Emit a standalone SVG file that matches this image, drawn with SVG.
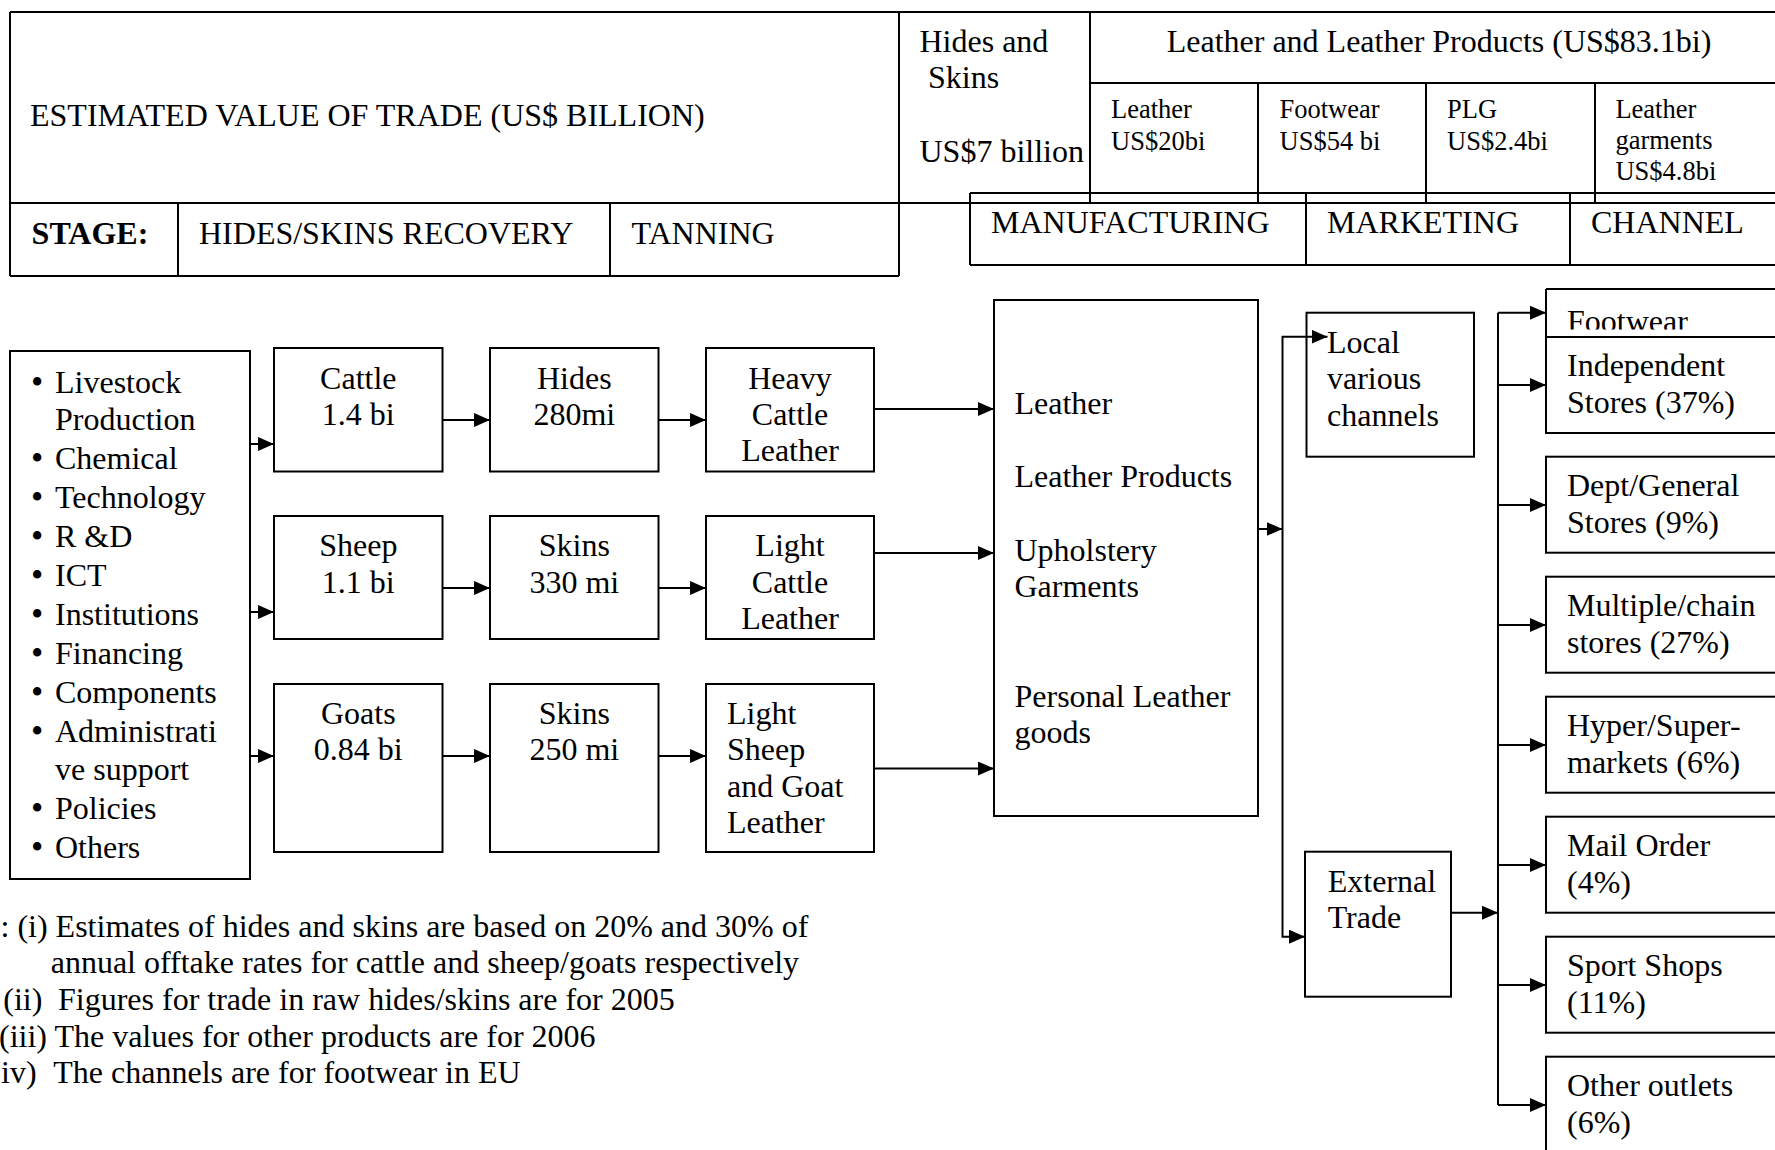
<svg xmlns="http://www.w3.org/2000/svg" width="1775" height="1150" viewBox="0 0 1775 1150">
<style>
text{font-family:"Liberation Serif","Times New Roman",serif;font-size:32px;fill:#000}
.sm{font-size:26.5px}
.b{font-weight:bold}
.c{text-anchor:middle}
.bu{font-size:35px}
.bx{fill:none;stroke:#000;stroke-width:2}
.ln{fill:none;stroke:#000;stroke-width:2}
.cn{fill:none;stroke:#000;stroke-width:2;marker-end:url(#ah)}
</style>
<defs>
<marker id="ah" markerUnits="userSpaceOnUse" markerWidth="16" markerHeight="14" refX="16" refY="7" orient="auto">
<path d="M0,0 L16,7 L0,14 Z" fill="#000"/>
</marker>
<clipPath id="fwclip"><rect x="1546" y="289" width="240" height="40.5"/></clipPath>
</defs>
<rect width="1775" height="1150" fill="#fff"/>

<g id="header">
<path class="ln" d="M10,12 H1800 M10,203 H1800 M10,12 V276 M899,12 V276 M1090,12 V203 M1090,83 H1800 M1258,83 V203 M1426,83 V203 M1595,83 V203 M10,276 H899 M178,203 V276 M610,203 V276"/>
<text x="30" y="126">ESTIMATED VALUE OF TRADE (US$ BILLION)</text>
<text x="919.5" y="52">Hides and</text>
<text x="928" y="88">Skins</text>
<text x="919.5" y="162">US$7 billion</text>
<text x="1166.7" y="52">Leather and Leather Products (US$83.1bi)</text>
<text class="sm" x="1111" y="118">Leather</text>
<text class="sm" x="1111" y="150">US$20bi</text>
<text class="sm" x="1279.5" y="118">Footwear</text>
<text class="sm" x="1279.5" y="150">US$54 bi</text>
<text class="sm" x="1447" y="118">PLG</text>
<text class="sm" x="1447" y="150">US$2.4bi</text>
<text class="sm" x="1615.4" y="118">Leather</text>
<text class="sm" x="1615.4" y="149">garments</text>
<text class="sm" x="1615.4" y="180">US$4.8bi</text>
<text class="b" x="31.6" y="244">STAGE:</text>
<text x="199" y="244">HIDES/SKINS RECOVERY</text>
<text x="631.5" y="244">TANNING</text>
</g>

<g id="stage2">
<path class="ln" d="M970,193 H1800 M970,265 H1800 M970,193 V265 M1306,193 V265 M1570,193 V265"/>
<text x="991" y="233">MANUFACTURING</text>
<text x="1327" y="233">MARKETING</text>
<text x="1591" y="233">CHANNEL</text>
</g>

<g id="inputs">
<rect class="bx" x="10" y="351" width="240" height="528"/>
<text class="bu" x="31" y="394">•</text><text x="55" y="393">Livestock</text>
<text x="55" y="430">Production</text>
<text class="bu" x="31" y="470">•</text><text x="55" y="469">Chemical</text>
<text class="bu" x="31" y="509">•</text><text x="55" y="508">Technology</text>
<text class="bu" x="31" y="548">•</text><text x="55" y="547">R &amp;D</text>
<text class="bu" x="31" y="587">•</text><text x="55" y="586">ICT</text>
<text class="bu" x="31" y="626">•</text><text x="55" y="625">Institutions</text>
<text class="bu" x="31" y="665">•</text><text x="55" y="664">Financing</text>
<text class="bu" x="31" y="704">•</text><text x="55" y="703">Components</text>
<text class="bu" x="31" y="743">•</text><text x="55" y="742">Administrati</text>
<text x="55" y="780">ve support</text>
<text class="bu" x="31" y="820">•</text><text x="55" y="819">Policies</text>
<text class="bu" x="31" y="859">•</text><text x="55" y="858">Others</text>
</g>

<g id="cattle">
<rect class="bx" x="274" y="348" width="168.5" height="123.5"/>
<text class="c" x="358.3" y="389">Cattle</text>
<text class="c" x="358.3" y="425">1.4 bi</text>
</g>
<g id="sheep">
<rect class="bx" x="274" y="516" width="168.5" height="123"/>
<text class="c" x="358.3" y="556">Sheep</text>
<text class="c" x="358.3" y="593">1.1 bi</text>
</g>
<g id="goats">
<rect class="bx" x="274" y="684" width="168.5" height="168"/>
<text class="c" x="358.3" y="724">Goats</text>
<text class="c" x="358.3" y="760">0.84 bi</text>
</g>

<g id="hides">
<rect class="bx" x="490" y="348" width="168.5" height="123.5"/>
<text class="c" x="574.3" y="389">Hides</text>
<text class="c" x="574.3" y="425">280mi</text>
</g>
<g id="skins-sheep">
<rect class="bx" x="490" y="516" width="168.5" height="123"/>
<text class="c" x="574.3" y="556">Skins</text>
<text class="c" x="574.3" y="593">330 mi</text>
</g>
<g id="skins-goats">
<rect class="bx" x="490" y="684" width="168.5" height="168"/>
<text class="c" x="574.3" y="724">Skins</text>
<text class="c" x="574.3" y="760">250 mi</text>
</g>

<g id="heavy-cattle-leather">
<rect class="bx" x="706" y="348" width="168" height="123.5"/>
<text class="c" x="790" y="389">Heavy</text>
<text class="c" x="790" y="425">Cattle</text>
<text class="c" x="790" y="461">Leather</text>
</g>
<g id="light-cattle-leather">
<rect class="bx" x="706" y="516" width="168" height="123"/>
<text class="c" x="790" y="556">Light</text>
<text class="c" x="790" y="593">Cattle</text>
<text class="c" x="790" y="629">Leather</text>
</g>
<g id="light-sheep-goat-leather">
<rect class="bx" x="706" y="684" width="168" height="168"/>
<text x="727" y="724">Light</text>
<text x="727" y="760">Sheep</text>
<text x="727" y="797">and Goat</text>
<text x="727" y="833">Leather</text>
</g>

<g id="manufacturing">
<rect class="bx" x="994" y="300" width="264" height="516"/>
<text x="1014.5" y="414">Leather</text>
<text x="1014.5" y="487">Leather Products</text>
<text x="1014.5" y="560.5">Upholstery</text>
<text x="1014.5" y="596.5">Garments</text>
<text x="1014.5" y="707">Personal Leather</text>
<text x="1014.5" y="743">goods</text>
</g>

<g id="local">
<rect class="bx" x="1306.5" y="312.7" width="167.5" height="144"/>
<text x="1327" y="353">Local</text>
<text x="1327" y="389">various</text>
<text x="1327" y="426">channels</text>
</g>
<g id="external">
<rect class="bx" x="1305" y="851.7" width="146" height="145"/>
<text x="1327.7" y="891.7">External</text>
<text x="1327.7" y="928">Trade</text>
</g>

<g id="ch-footwear">
<path class="ln" d="M1546,289 H1800 M1546,289 V337"/>
<text x="1567" y="332" clip-path="url(#fwclip)">Footwear</text>
</g>
<g id="ch-independent">
<rect class="bx" x="1546" y="337" width="260" height="96"/>
<text x="1567" y="376">Independent</text>
<text x="1567" y="412.5">Stores (37%)</text>
</g>
<g id="ch-dept">
<rect class="bx" x="1546" y="456.7" width="260" height="96"/>
<text x="1567" y="496">Dept/General</text>
<text x="1567" y="532.5">Stores (9%)</text>
</g>
<g id="ch-multiple">
<rect class="bx" x="1546" y="576.7" width="260" height="96"/>
<text x="1567" y="616">Multiple/chain</text>
<text x="1567" y="652.5">stores (27%)</text>
</g>
<g id="ch-hyper">
<rect class="bx" x="1546" y="696.7" width="260" height="96"/>
<text x="1567" y="736">Hyper/Super-</text>
<text x="1567" y="772.5">markets (6%)</text>
</g>
<g id="ch-mail">
<rect class="bx" x="1546" y="816.7" width="260" height="96"/>
<text x="1567" y="856">Mail Order</text>
<text x="1567" y="892.5">(4%)</text>
</g>
<g id="ch-sport">
<rect class="bx" x="1546" y="936.7" width="260" height="96"/>
<text x="1567" y="976">Sport Shops</text>
<text x="1567" y="1012.5">(11%)</text>
</g>
<g id="ch-other">
<rect class="bx" x="1546" y="1056.7" width="260" height="120"/>
<text x="1567" y="1096">Other outlets</text>
<text x="1567" y="1132.5">(6%)</text>
</g>

<g id="connectors">
<path class="cn" d="M250,444 H274"/>
<path class="cn" d="M250,612 H274"/>
<path class="cn" d="M250,756 H274"/>
<path class="cn" d="M442.5,420 H490"/>
<path class="cn" d="M442.5,588 H490"/>
<path class="cn" d="M442.5,756 H490"/>
<path class="cn" d="M658.5,420 H706"/>
<path class="cn" d="M658.5,588 H706"/>
<path class="cn" d="M658.5,756 H706"/>
<path class="cn" d="M874,409 H994"/>
<path class="cn" d="M874,553 H994"/>
<path class="cn" d="M874,768.5 H994"/>
<path class="cn" d="M1258,529 H1282.5"/>
<path class="cn" d="M1282.5,529 V336.7 H1327.5"/>
<path class="cn" d="M1282.5,529 V936.7 H1305"/>
<path class="cn" d="M1451,912.7 H1498"/>
<path class="ln" d="M1498,312.7 V1105"/>
<path class="cn" d="M1498,312.7 H1546"/>
<path class="cn" d="M1498,385 H1546"/>
<path class="cn" d="M1498,505 H1546"/>
<path class="cn" d="M1498,625 H1546"/>
<path class="cn" d="M1498,745 H1546"/>
<path class="cn" d="M1498,865 H1546"/>
<path class="cn" d="M1498,985 H1546"/>
<path class="cn" d="M1498,1105 H1546"/>
</g>

<g id="notes">
<text x="0.5" y="937">: (i) Estimates of hides and skins are based on 20% and 30% of</text>
<text x="50.7" y="973">annual offtake rates for cattle and sheep/goats respectively</text>
<text x="3.3" y="1010">(ii)</text><text x="58" y="1010">Figures for trade in raw hides/skins are for 2005</text>
<text x="-1" y="1046.7">(iii) The values for other products are for 2006</text>
<text x="1" y="1083.3">iv)</text><text x="53.3" y="1083.3">The channels are for footwear in EU</text>
</g>
</svg>
